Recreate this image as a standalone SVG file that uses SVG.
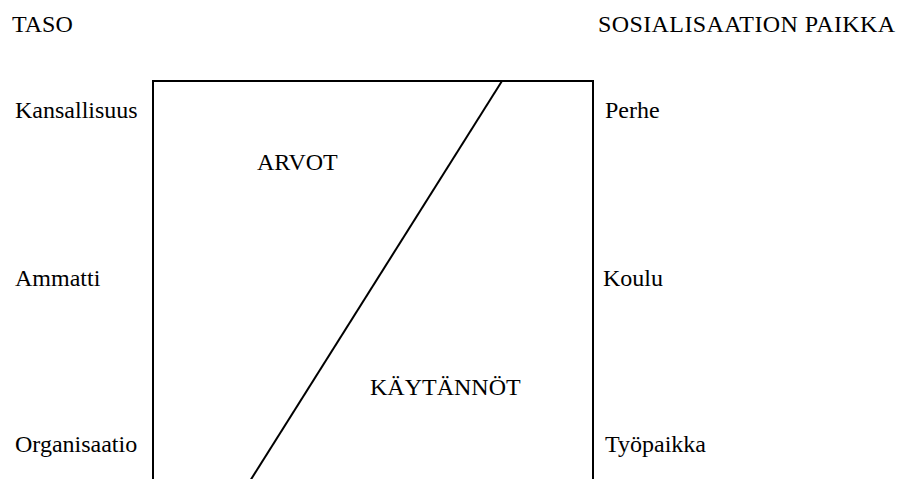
<svg xmlns="http://www.w3.org/2000/svg" width="898" height="479" viewBox="0 0 898 479">
<style>
text{font-family:"Liberation Serif","Times New Roman",serif;font-size:24px;fill:#000}
.ln{fill:none;stroke:#000;stroke-width:2}
</style>
<rect width="898" height="479" fill="#fff"/>
<g id="frame"><path class="ln" d="M153,480 V81 H593 V480"/></g>
<g id="connectors"><line class="ln" x1="502" y1="81" x2="250" y2="481"/></g>
<g id="headers">
<text x="12" y="32">TASO</text>
<text x="598" y="32" letter-spacing="0.4">SOSIALISAATION PAIKKA</text>
</g>
<g id="levels">
<text x="15" y="118">Kansallisuus</text>
<text x="15" y="286">Ammatti</text>
<text x="15" y="452">Organisaatio</text>
</g>
<g id="places">
<text x="605" y="118">Perhe</text>
<text x="603" y="286">Koulu</text>
<text x="605" y="452">Työpaikka</text>
</g>
<g id="areas">
<text x="257" y="170">ARVOT</text>
<text x="370" y="395">KÄYTÄNNÖT</text>
</g>
</svg>
